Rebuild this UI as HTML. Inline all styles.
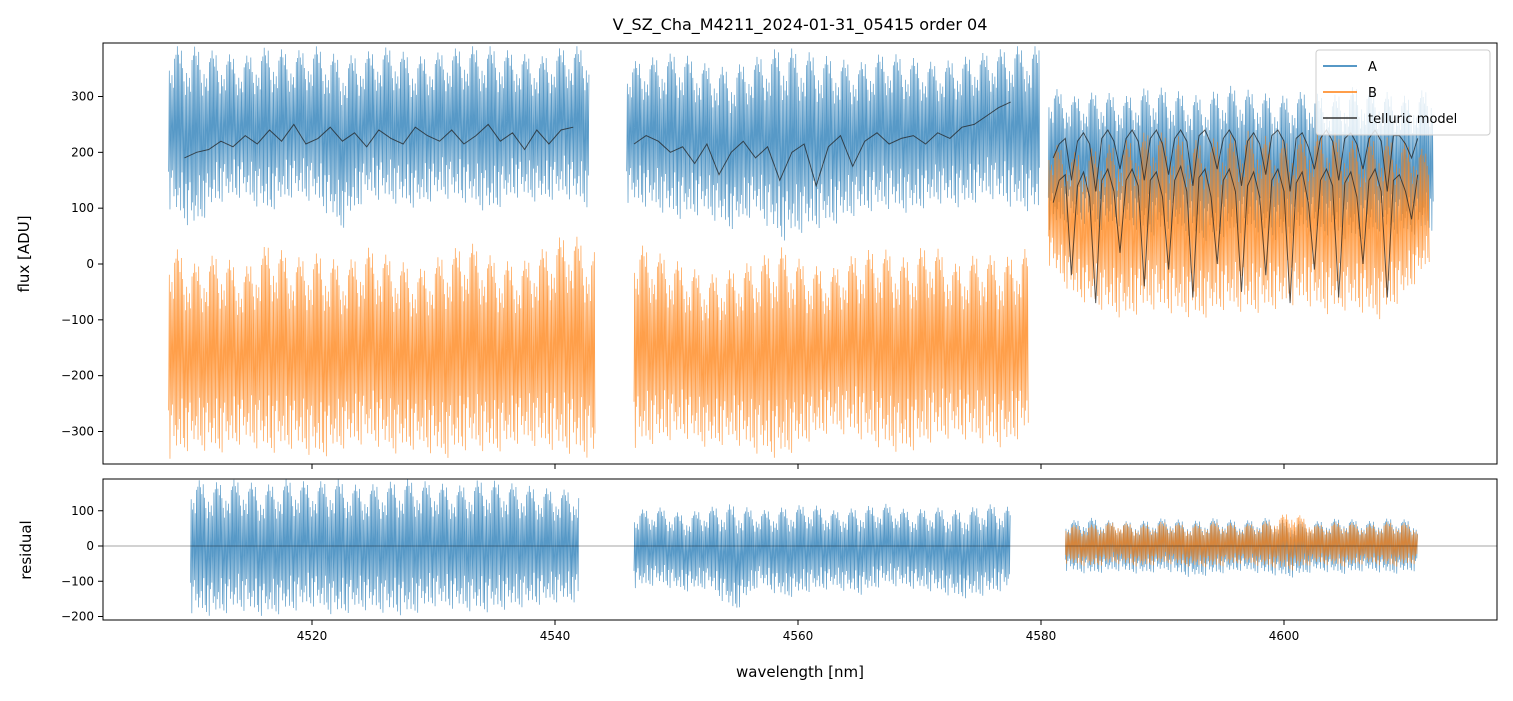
<!DOCTYPE html>
<html><head><meta charset="utf-8">
<style>
body{margin:0;background:#fff;font-family:"Liberation Sans","DejaVu Sans",sans-serif;}
svg text{font-family:"DejaVu Sans","Liberation Sans",sans-serif;}
</style></head>
<body>
<svg id="chart" width="1513" height="696" viewBox="0 0 1513 696" xmlns="http://www.w3.org/2000/svg">
<defs>
<clipPath id="clipTop"><rect x="103" y="43" width="1394" height="421"/></clipPath>
<clipPath id="clipBot"><rect x="103" y="479" width="1394" height="141"/></clipPath>
</defs>
<rect width="1513" height="696" fill="#fff"/>
<text x="800" y="30" font-size="16" text-anchor="middle">V_SZ_Cha_M4211_2024-01-31_05415  order 04</text>
<g id="gtop" clip-path="url(#clipTop)"></g>
<g id="gbot" clip-path="url(#clipBot)"></g>
<g id="axes"></g>
<text transform="translate(29,254) rotate(-90)" font-size="15" text-anchor="middle">flux [ADU]</text>
<text transform="translate(31,550) rotate(-90)" font-size="15" text-anchor="middle">residual</text>
<text x="800" y="677" font-size="15" text-anchor="middle">wavelength [nm]</text>
<g>
<rect x="1316" y="50" width="174" height="85" rx="3" fill="#fff" fill-opacity="0.8" stroke="#ccc"/>
<line x1="1323" y1="66" x2="1357" y2="66" stroke="#1f77b4" stroke-width="1.5"/>
<text x="1368" y="71" font-size="13">A</text>
<line x1="1323" y1="92" x2="1357" y2="92" stroke="#ff7f0e" stroke-width="1.5"/>
<text x="1368" y="97" font-size="13">B</text>
<line x1="1323" y1="118" x2="1357" y2="118" stroke="#333" stroke-width="1.5"/>
<text x="1368" y="123" font-size="13">telluric model</text>
</g>
</svg>
<script>
// ---- data ----
const xTicks=[4520,4540,4560,4580,4600];
const yTicksTop=[-300,-200,-100,0,100,200,300];
const yTicksRes=[-200,-100,0,100];
const aSeg1Lo=[100,60,110,120,90,120,110,60,120,110,100,120,110,90,120,110,120,100];
const aSeg1Hi=[390,390,380,370,390,380,390,370,380,390,370,380,390,390,380,370,390,390];
const aSeg2Lo=[110,100,80,90,60,90,40,60,70,90,100,90,110,100,120,100,90];
const aSeg2Hi=[360,370,380,360,350,370,390,380,370,360,380,370,360,370,380,390,390];
const aSeg3Lo=[60,80,60,70,50,60,40,50,60,40,60,50,40,60,50,60];
const aSeg3Hi=[320,300,310,300,320,310,300,320,310,300,310,300,320,310,300,320];
const bSeg1Lo=[-350,-330,-340,-320,-340,-330,-350,-330,-320,-340,-330,-350,-330,-340,-320,-330,-340,-350];
const bSeg1Hi=[40,0,20,-10,40,10,20,0,30,10,-10,20,40,10,0,30,60,20];
const bSeg2Lo=[-330,-320,-310,-330,-320,-340,-350,-320,-300,-310,-330,-340,-320,-310,-320,-330,-300];
const bSeg2Hi=[40,20,0,-20,-10,10,30,0,-10,20,30,10,40,0,20,10,30];
const bSeg3Lo=[0,-60,-80,-100,-80,-90,-100,-80,-90,-80,-70,-90,-80,-100,-60,0];
const bSeg3Hi=[220,200,210,220,240,230,220,230,240,220,230,240,220,230,220,200];
const rA1Lo=[-190,-200,-180,-200,-190,-170,-200,-180,-190,-200,-170,-180,-190,-180,-170,-160,-160];
const rA1Hi=[190,180,190,170,190,180,190,170,180,190,180,170,190,180,170,160,160];
const rA2Lo=[-120,-110,-130,-120,-190,-110,-150,-130,-120,-140,-110,-120,-130,-150,-140,-120];
const rA2Hi=[100,110,90,110,120,100,110,120,100,110,120,100,110,100,120,110];
const rA3Lo=[-70,-80,-70,-80,-70,-90,-80,-70,-80,-90,-70,-80,-70,-80,-70];
const rA3Hi=[70,80,70,70,80,70,80,70,80,70,70,80,70,80,70];
const rB3Lo=[-50,-60,-50,-60,-50,-60,-60,-50,-60,-70,-50,-60,-50,-60,-50];
const rB3Hi=[60,60,70,60,70,60,70,60,70,100,60,70,60,70,60];
const tell1=[190,200,205,220,210,230,215,240,220,250,215,225,245,220,235,210,240,225,215,245,230,220,240,215,230,250,220,235,205,240,215,240,245];
const tell2=[215,230,220,200,210,180,215,160,200,220,190,210,150,200,215,140,210,230,175,220,235,215,225,230,215,235,225,245,250,265,280,290];
const tellA3=[190,215,225,150,220,235,215,130,225,240,220,170,225,240,220,150,225,240,215,160,225,240,220,140,230,240,215,170,225,240,220,140,220,235,215,160,230,240,220,130,225,235,210,170,225,240,220,150,225,235,215,170,225,240,220,130,230,230,215,190,225];
const tellB3=[110,150,160,-20,140,165,120,-70,150,170,130,20,150,170,140,-40,150,165,120,-10,150,175,130,-60,155,170,120,0,150,170,130,-50,140,165,120,-20,150,170,130,-70,145,165,110,-10,150,170,140,-60,145,165,120,0,150,170,130,-60,150,160,130,80,160];
// ---- axes ----
const X=w=>312+(w-4520)*12.15;
const YT=v=>264-v*0.5583;
const YB=v=>546-v*0.3525;
const NS="http://www.w3.org/2000/svg";
function mk(tag,attrs,parent){const e=document.createElementNS(NS,tag);for(const k in attrs)e.setAttribute(k,attrs[k]);parent.appendChild(e);return e;}
const gTop=document.getElementById('gtop'),gBot=document.getElementById('gbot'),gAxes=document.getElementById('axes');
const pat=[1,0.7,0.9,0.55,0.8,0.65,0.95,0.5,0.75,0.85,0.6,0.9,0.45];
function band(start,end,lo,hi,Y,color,g,name){
  const step=(end-start)/(lo.length-1);let pts=[];let i=0;
  for(let w=start;w<=end;w+=0.055,i++){
    const f=(w-start)/step;const k=Math.min(Math.floor(f),lo.length-2);const t=f-k;
    const l=lo[k]+(lo[k+1]-lo[k])*t,h=hi[k]+(hi[k+1]-hi[k])*t,m=(l+h)/2;
    const v=i%2?m+(h-m)*pat[i%13]:m-(m-l)*pat[(i*5+3)%13];
    pts.push(X(w).toFixed(2)+','+Y(v).toFixed(1));
  }
  const p=mk('polyline',{points:pts.join(' '),fill:'none',stroke:color,'stroke-width':0.7,'stroke-opacity':0.75},g);
  
  
}
function line(start,step,vals,Y,g,name){
  const pts=vals.map((v,i)=>X(start+i*step).toFixed(1)+','+Y(v).toFixed(1));
  const p=mk('polyline',{points:pts.join(' '),fill:'none',stroke:'#222','stroke-width':1,'stroke-opacity':0.75},g);
  
  
}
const CA='#1f77b4',CB='#ff7f0e';
band(4508.2,4542.8,aSeg1Lo,aSeg1Hi,YT,CA,gTop,'series-a-seg1');
band(4545.9,4579.9,aSeg2Lo,aSeg2Hi,YT,CA,gTop,'series-a-seg2');
band(4580.6,4612.3,aSeg3Lo,aSeg3Hi,YT,CA,gTop,'series-a-seg3');
band(4508.2,4543.3,bSeg1Lo,bSeg1Hi,YT,CB,gTop,'series-b-seg1');
band(4546.5,4579.0,bSeg2Lo,bSeg2Hi,YT,CB,gTop,'series-b-seg2');
band(4580.6,4612.0,bSeg3Lo,bSeg3Hi,YT,CB,gTop,'series-b-seg3');
line(4509.5,1,tell1,YT,gTop,'telluric-seg1');
line(4546.5,1,tell2,YT,gTop,'telluric-seg2');
line(4581,0.5,tellA3,YT,gTop,'telluric-a-seg3');
line(4581,0.5,tellB3,YT,gTop,'telluric-b-seg3');
band(4510,4542,rA1Lo,rA1Hi,YB,CA,gBot,'residual-a-seg1');
band(4546.5,4577.5,rA2Lo,rA2Hi,YB,CA,gBot,'residual-a-seg2');
band(4582,4611,rA3Lo,rA3Hi,YB,CA,gBot,'residual-a-seg3');
band(4582,4611,rB3Lo,rB3Hi,YB,CB,gBot,'residual-b-seg3');
const zl=mk('line',{x1:103,x2:1497,y1:YB(0),y2:YB(0),stroke:'#000','stroke-width':0.5,'stroke-opacity':0.7},gBot);


const f1=mk('rect',{x:103,y:43,width:1394,height:421,fill:'none',stroke:'#000','stroke-width':1},gAxes);


const f2=mk('rect',{x:103,y:479,width:1394,height:141,fill:'none',stroke:'#000','stroke-width':1},gAxes);


xTicks.forEach(t=>{
  mk('line',{x1:X(t),x2:X(t),y1:464,y2:469,stroke:'#000'},gAxes);
  mk('line',{x1:X(t),x2:X(t),y1:620,y2:625,stroke:'#000'},gAxes);
  const tx=mk('text',{x:X(t),y:640,'font-size':12,'text-anchor':'middle'},gAxes);tx.textContent=t;
  
  
});
yTicksTop.forEach(t=>{
  mk('line',{x1:98,x2:103,y1:YT(t),y2:YT(t),stroke:'#000'},gAxes);
  const tx=mk('text',{x:94,y:YT(t)+4,'font-size':12,'text-anchor':'end'},gAxes);tx.textContent=t<0?'\u2212'+(-t):t;
  
  
});
yTicksRes.forEach(t=>{
  mk('line',{x1:98,x2:103,y1:YB(t),y2:YB(t),stroke:'#000'},gAxes);
  const tx=mk('text',{x:94,y:YB(t)+4,'font-size':12,'text-anchor':'end'},gAxes);tx.textContent=t<0?'\u2212'+(-t):t;
  
  
});
</script>
</body></html>
